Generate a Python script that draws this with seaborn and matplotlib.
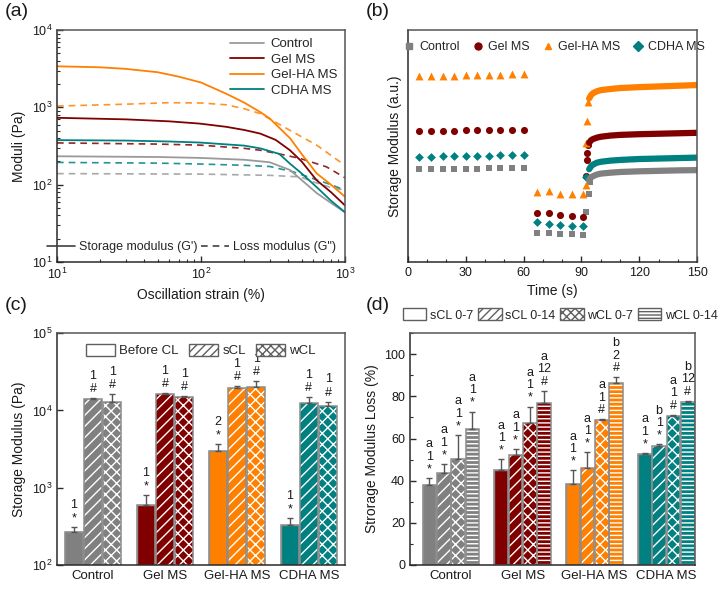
import numpy as np
import pandas as pd
import matplotlib
matplotlib.use('Agg')
import matplotlib.pyplot as plt
import seaborn as sns
from matplotlib.patches import Patch, Rectangle
from matplotlib.lines import Line2D
from matplotlib.ticker import MultipleLocator

# ---------------- data ----------------
groups = ['Control', 'Gel MS', 'Gel-HA MS', 'CDHA MS']
colors = ['#808080', '#800000', '#FF8000', '#008080']
line_colors = ['#9a9a9a', '#800000', '#FF8000', '#008080']

# (a) amplitude sweep: storage (G') and loss (G'') moduli, Pa vs strain %
ctrl_g1_x = [10, 50, 98, 200, 300, 415, 500, 636, 800, 1000]
ctrl_g1_y = [233, 228, 222, 210, 195, 155, 115, 78, 58, 44]
ctrl_g2_x = [10, 100, 300, 490, 636, 800, 1000]
ctrl_g2_y = [139, 137, 132, 126, 105, 92, 85]
gel_g1_x = [10, 30, 60, 98, 150, 200, 258, 330, 415, 500, 636, 800, 1000]
gel_g1_y = [733, 700, 660, 617, 560, 510, 458, 380, 279, 200, 114, 80, 54]
gel_g2_x = [10, 50, 98, 200, 258, 350, 490, 745, 1000]
gel_g2_y = [347, 335, 325, 295, 279, 250, 218, 170, 123]
geha_g1_x = [10, 20, 30, 50, 70, 100, 150, 200, 258, 300, 415, 500, 636, 800, 1000]
geha_g1_y = [3400, 3300, 3150, 2850, 2500, 2100, 1500, 1150, 870, 720, 400, 250, 140, 100, 70]
geha_g2_x = [10, 30, 60, 100, 150, 200, 258, 415, 636, 1000]
geha_g2_y = [1040, 1100, 1150, 1140, 1080, 960, 830, 505, 325, 178]
cdha_g1_x = [10, 30, 60, 98, 200, 258, 350, 415, 500, 636, 800, 1000]
cdha_g1_y = [377, 372, 362, 351, 320, 295, 250, 187, 140, 93, 62, 44]
cdha_g2_x = [10, 50, 98, 200, 300, 440, 600, 800, 1000]
cdha_g2_y = [194, 190, 185, 178, 172, 146, 120, 100, 85]

# (b) recovery test (arbitrary units)
t_hold = [6, 12, 18, 24, 30, 36, 42, 48, 54, 60]
t_low = [67, 73, 79, 85, 91]
t_rec = [94, 95, 96, 98, 100, 105, 110, 120, 130, 140, 150]
ctrl_hold = [40.0, 40.1, 40.1, 40.2, 40.2, 40.3, 40.4, 40.4, 40.5, 40.6]
gel_hold = [56.4, 56.5, 56.5, 56.6, 56.7, 56.8, 56.8, 56.9, 57.0, 57.1]
geha_hold = [80.1, 80.2, 80.3, 80.4, 80.5, 80.6, 80.7, 80.8, 80.9, 81.0]
cdha_hold = [45.3, 45.4, 45.5, 45.6, 45.7, 45.8, 45.9, 46.0, 46.1, 46.3]
ctrl_low = [12.7, 12.4, 11.9, 11.9, 11.5]
gel_low = [21.3, 21.2, 20.4, 20.0, 19.4]
geha_low = [30.2, 30.5, 29.2, 29.2, 29.1]
cdha_low = [17.3, 16.5, 15.8, 15.5, 15.4]
ctrl_tr_t = [92.5, 93.7, 94.2]
ctrl_tr = [21.6, 29.5, 34.5]
gel_tr_t = [92.3, 92.8, 93.0, 93.5]
gel_tr = [37.0, 43.9, 47.2, 50.5]
geha_tr_t = [92.3, 92.5, 93.1, 93.6]
geha_tr = [33.1, 51.1, 60.7, 69.0]
cdha_tr_t = [92.5]
cdha_tr = [36.7]
ctrl_rec = [35.5, 36.5, 37.0, 37.7, 38.1, 38.5, 38.8, 39.1, 39.3, 39.5, 39.6]
gel_rec = [51.4, 52.5, 53.0, 53.6, 54.0, 54.5, 54.8, 55.1, 55.3, 55.5, 55.7]
geha_rec = [70.5, 72.0, 72.8, 73.6, 74.1, 74.6, 75.0, 75.4, 75.7, 76.0, 76.3]
cdha_rec = [40.0, 41.3, 42.0, 42.8, 43.2, 43.7, 44.0, 44.4, 44.6, 44.8, 45.0]

# (c) storage modulus (Pa)
c_conds = ['Before CL', 'sCL', 'wCL']
before_cl = [270, 600, 2990, 330]
before_cl_err = [38, 207, 670, 73]
scl = [14100, 16400, 19400, 12500]
scl_err = [300, 300, 1400, 2500]
wcl = [12800, 15000, 19950, 11450]
wcl_err = [3400, 400, 4150, 1550]
before_lab = ['1\n*', '1\n*', '2\n*', '1\n*']
scl_lab = ['1\n#', '1\n#', '1\n#', '1\n#']
wcl_lab = ['1\n#', '1\n#', '1\n#', '1\n#']

# (d) storage modulus loss (%)
d_conds = ['sCL 0-7', 'sCL 0-14', 'wCL 0-7', 'wCL 0-14']
scl07 = [38.1, 44.9, 38.6, 52.6]
scl07_err = [3.2, 5.2, 6.3, 0.6]
scl014 = [43.8, 52.3, 46.1, 56.4]
scl014_err = [4.2, 2.8, 7.4, 0.8]
wcl07 = [50.4, 67.4, 69.0, 70.9]
wcl07_err = [11.3, 7.7, 0.3, 0.4]
wcl014 = [64.6, 76.9, 86.3, 77.5]
wcl014_err = [8.2, 5.8, 3.0, 0.5]
scl07_lab = ['a\n1\n*', 'a\n1\n*', 'a\n1\n*', 'a\n1\n*']
scl014_lab = ['a\n1\n*', 'a\n1\n*', 'a\n1\n*', 'b\n1\n*']
wcl07_lab = ['a\n1\n*', 'a\n1\n*', 'a\n1\n#', 'a\n1\n#']
wcl014_lab = ['a\n1\n*', 'a\n12\n#', 'b\n2\n#', 'b\n12\n#']

# ---------------- style ----------------
sns.set_style('ticks')
plt.rcParams['font.family'] = ['Liberation Sans', 'DejaVu Sans']
plt.rcParams['mathtext.fontset'] = 'custom'
plt.rcParams['mathtext.rm'] = 'Liberation Sans'
plt.rcParams['mathtext.it'] = 'Liberation Sans'
plt.rcParams['hatch.linewidth'] = 1.0
SP = '#2a2a2a'
TXT = '#1a1a1a'
EDGE = '#8c8c8c'

fig = plt.figure(figsize=(7.18, 5.9), dpi=100)
axA = fig.add_axes([0.0794, 0.556, 0.401, 0.393])
axB = fig.add_axes([0.568, 0.556, 0.403, 0.393])
axC = fig.add_axes([0.0794, 0.0424, 0.401, 0.393])
axD = fig.add_axes([0.571, 0.0424, 0.397, 0.393])

for ax in (axA, axB, axC, axD):
    for s in ax.spines.values():
        s.set_color('#555555')
        s.set_linewidth(1.1)
    ax.spines['left'].set_color(SP)
    ax.spines['bottom'].set_color(SP)
    ax.tick_params(colors=SP, labelcolor=TXT, labelsize=9, width=1, length=4, direction='in')
    ax.tick_params(which='minor', colors=SP, width=0.8, length=2.5, direction='in')

# ---------------- (a) ----------------
g1 = [(ctrl_g1_x, ctrl_g1_y), (gel_g1_x, gel_g1_y), (geha_g1_x, geha_g1_y), (cdha_g1_x, cdha_g1_y)]
g2 = [(ctrl_g2_x, ctrl_g2_y), (gel_g2_x, gel_g2_y), (geha_g2_x, geha_g2_y), (cdha_g2_x, cdha_g2_y)]
for (x, y), c in zip(g2, line_colors):
    sns.lineplot(x=x, y=y, ax=axA, color=c, lw=1.2, linestyle=(0, (4, 3)), estimator=None, alpha=0.85)
for (x, y), c in zip(g1, line_colors):
    sns.lineplot(x=x, y=y, ax=axA, color=c, lw=1.3, estimator=None)
axA.set_xscale('log')
axA.set_yscale('log')
axA.set_xlim(10, 1000)
axA.set_ylim(10, 1e4)
axA.set_xlabel('Oscillation strain (%)', fontsize=10, color=TXT)
axA.set_ylabel('Moduli (Pa)', fontsize=10, color=TXT)
hA = [Line2D([], [], color=c, lw=1.3) for c in line_colors]
legA = axA.legend(hA, groups, loc='upper right', frameon=False, fontsize=9.5,
                  handlelength=2.6, labelspacing=0.25, borderaxespad=0.2, handletextpad=0.5)
axA.add_artist(legA)
hA2 = [Line2D([], [], color='#404040', lw=1.2), Line2D([], [], color='#404040', lw=1.2, linestyle=(0, (4, 3)))]
axA.legend(hA2, ["Storage modulus (G')", 'Loss modulus (G")'], loc='lower right', ncol=2,
           frameon=False, fontsize=9, handlelength=2.2, columnspacing=0.3, borderaxespad=0.3,
           handletextpad=0.35)

# ---------------- (b) ----------------
markers = ['s', 'o', '^', 'D']
msize = [24, 26, 32, 20]
holds = [ctrl_hold, gel_hold, geha_hold, cdha_hold]
lows = [ctrl_low, gel_low, geha_low, cdha_low]
trs = [(ctrl_tr_t, ctrl_tr), (gel_tr_t, gel_tr), (geha_tr_t, geha_tr), (cdha_tr_t, cdha_tr)]
recs = [ctrl_rec, gel_rec, geha_rec, cdha_rec]
for i in range(4):
    c = colors[i]
    sns.lineplot(x=t_rec, y=recs[i], ax=axB, color=c, lw=4.5, estimator=None,
                 solid_capstyle='round')
    sns.scatterplot(x=t_hold + t_low + trs[i][0], y=holds[i] + lows[i] + trs[i][1], ax=axB,
                    color=c, marker=markers[i], s=msize[i], linewidth=0)
axB.set_xlim(0, 150)
axB.set_ylim(0, 100)
axB.set_yticks([])
axB.xaxis.set_major_locator(MultipleLocator(30))
axB.xaxis.set_minor_locator(MultipleLocator(10))
axB.set_xlabel('Time (s)', fontsize=10, color=TXT)
axB.set_ylabel('Storage Modulus (a.u.)', fontsize=10, color=TXT)
hB = [Line2D([], [], color=c, marker=m, linestyle='none', markersize=5) for c, m in zip(colors, markers)]
axB.legend(hB, groups, loc='upper center', ncol=4, frameon=False, fontsize=9,
           handletextpad=0.05, columnspacing=0.7, borderaxespad=0.5, handlelength=1.5)


def style_bars(ax, n_cond, hatches, vals, errs, labs, lsp):
    for i, cont in enumerate(ax.containers[:n_cond]):
        xs = []
        for j, bar in enumerate(cont):
            bar.set_facecolor(colors[j])
            if hatches[i]:
                bar.set_hatch(hatches[i])
                bar.set_edgecolor('white')
                bar.set_linewidth(0)
            else:
                bar.set_edgecolor(EDGE)
            ax.add_patch(Rectangle((bar.get_x(), bar.get_y()), bar.get_width(), bar.get_height(),
                                   fill=False, edgecolor=EDGE, lw=1.1, zorder=bar.get_zorder() + 0.1))
            xs.append(bar.get_x() + bar.get_width() / 2)
        ax.errorbar(xs, vals[i], yerr=[np.zeros(len(errs[i])), errs[i]], fmt='none',
                    ecolor='#555555', elinewidth=1, capsize=2.5, capthick=1, zorder=5)
        for x, v, e, t in zip(xs, vals[i], errs[i], labs[i]):
            ax.annotate(t, (x, v + e), xytext=(0, 2), textcoords='offset points', ha='center',
                        va='bottom', fontsize=9, linespacing=lsp, color=TXT)


# ---------------- (c) ----------------
dfc = pd.DataFrame({'group': groups * 3,
                    'cond': sum([[c] * 4 for c in c_conds], []),
                    'value': before_cl + scl + wcl})
sns.barplot(data=dfc, x='group', y='value', hue='cond', ax=axC, errorbar=None, width=0.8,
            gap=0.06, legend=False)
axC.set_yscale('log')
style_bars(axC, 3, [None, '///', 'xxx'], [before_cl, scl, wcl], [before_cl_err, scl_err, wcl_err],
           [before_lab, scl_lab, wcl_lab], 1.15)
axC.set_ylim(100, 1e5)
axC.set_xlim(-0.5, 3.5)
axC.set_xlabel('')
axC.set_ylabel('Storage Modulus (Pa)', fontsize=10, color=TXT)
axC.tick_params(axis='x', labelsize=9.5, length=0)
axC.tick_params(axis='y', which='minor', length=0)
hC = [Patch(facecolor='white', edgecolor='#606060', hatch=h, lw=1) for h in [None, '////', 'xxxx']]
axC.legend(hC, c_conds, loc='upper center', ncol=3, frameon=False, fontsize=9.5,
           handlelength=2.2, handleheight=1.1, columnspacing=0.8, handletextpad=0.3,
           borderaxespad=0.4, bbox_to_anchor=(0.5, 1.0))

# ---------------- (d) ----------------
dfd = pd.DataFrame({'group': groups * 4,
                    'cond': sum([[c] * 4 for c in d_conds], []),
                    'value': scl07 + scl014 + wcl07 + wcl014})
sns.barplot(data=dfd, x='group', y='value', hue='cond', ax=axD, errorbar=None, width=0.8,
            gap=0.05, legend=False)
style_bars(axD, 4, [None, '///', 'xxx', '----'], [scl07, scl014, wcl07, wcl014],
           [scl07_err, scl014_err, wcl07_err, wcl014_err],
           [scl07_lab, scl014_lab, wcl07_lab, wcl014_lab], 1.05)
axD.set_ylim(0, 110)
axD.set_xlim(-0.57, 3.40)
axD.yaxis.set_major_locator(MultipleLocator(20))
axD.yaxis.set_minor_locator(MultipleLocator(10))
axD.set_xlabel('')
axD.set_ylabel('Strorage Modulus Loss (%)', fontsize=10, color=TXT)
axD.tick_params(axis='x', labelsize=9.5, length=0)
hD = [Patch(facecolor='white', edgecolor='#606060', hatch=h, lw=1) for h in [None, '////', 'xxxx', '-----']]
fig.legend(hD, d_conds, loc='center', ncol=4, frameon=False, fontsize=9,
           handlelength=1.9, handleheight=1.1, columnspacing=0.4, handletextpad=0.25,
           bbox_to_anchor=(0.78, 0.466))

# panel labels
for lab, x, y in [('(a)', 0.006, 0.995), ('(b)', 0.51, 0.995), ('(c)', 0.006, 0.497), ('(d)', 0.51, 0.497)]:
    fig.text(x, y, lab, fontsize=14, va='top', ha='left', color=TXT)

fig.savefig('out.png', dpi=100)
